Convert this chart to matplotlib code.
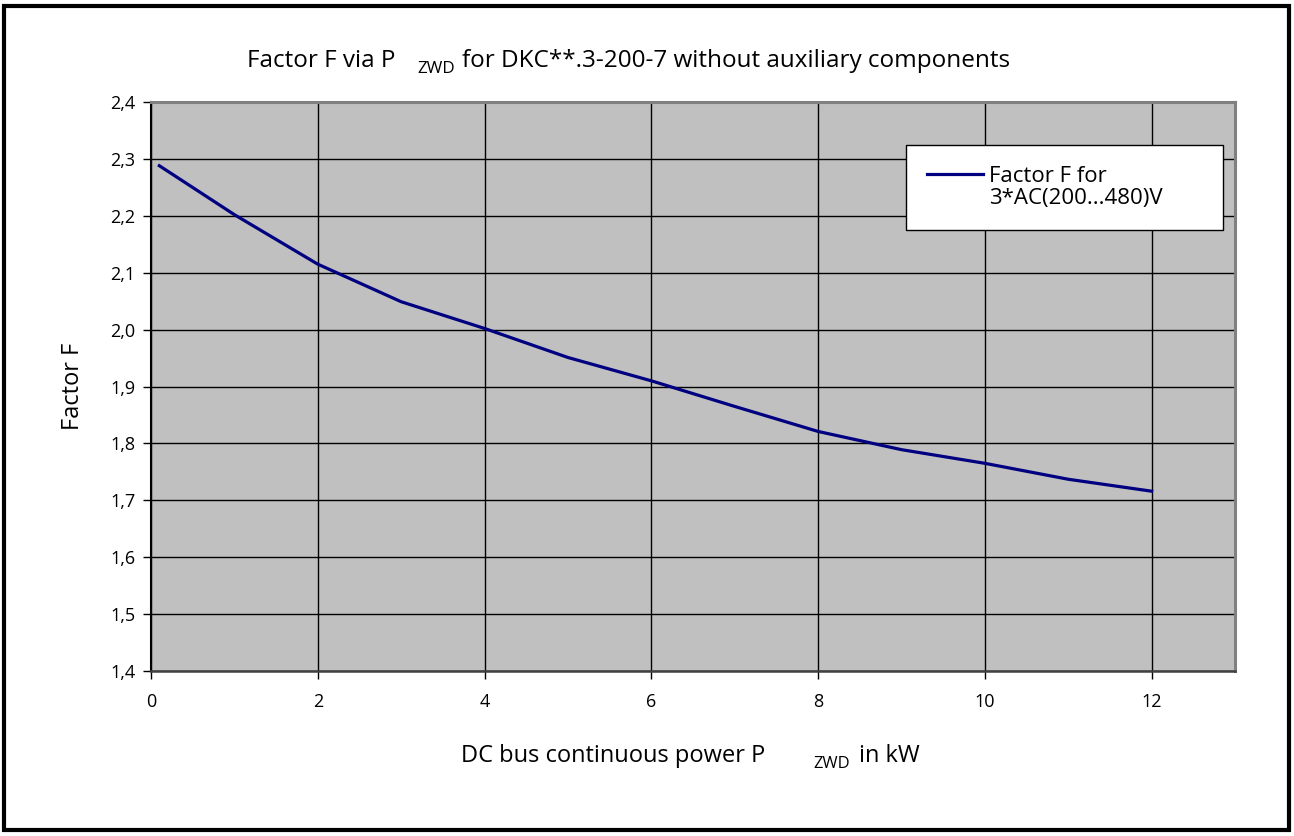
import matplotlib
matplotlib.use("Agg")
import matplotlib.pyplot as plt
from matplotlib.patches import Rectangle
from matplotlib.legend_handler import HandlerLine2D

plt.rcParams['font.family'] = ['Open Sans', 'DejaVu Sans']

# Factor F over DC bus continuous power (kW)
power_kw = [0.1, 1, 2, 3, 4, 5, 6, 7, 8, 9, 10, 11, 12]
factor_f = [2.288, 2.202, 2.115, 2.049, 2.002, 1.951, 1.910, 1.865, 1.821, 1.789, 1.765, 1.737, 1.716]
series_label = "Factor F for\n3*AC(200...480)V"

x_ticks = [0, 2, 4, 6, 8, 10, 12]
y_ticks = [1.4, 1.5, 1.6, 1.7, 1.8, 1.9, 2.0, 2.1, 2.2, 2.3, 2.4]


class HandlerTopLine(HandlerLine2D):
    # put the legend line level with the first text line
    def create_artists(self, legend, orig_handle, xdescent, ydescent, width, height, fontsize, trans):
        artists = super().create_artists(legend, orig_handle, xdescent, ydescent,
                                         width, height, fontsize, trans)
        for a in artists:
            a.set_ydata([y + 10 for y in a.get_ydata()])
        return artists


W, H = 1294, 836
fig = plt.figure(figsize=(W / 100, H / 100), dpi=100)
# plot area: 151..1235 px wide, 102..671 px high
ax = fig.add_axes([151 / W, 1 - 671 / H, 1084 / W, 569 / H])
ax.set_facecolor('#c0c0c0')

line, = ax.plot(power_kw, factor_f, color='#000080', lw=2.3, label=series_label, zorder=3)

ax.set_xlim(0, 13)
ax.set_ylim(1.4, 2.4)
ax.set_xticks(x_ticks)
ax.set_yticks(y_ticks)
ax.set_yticklabels([f"{v:.1f}".replace('.', ',') for v in y_ticks])
ax.tick_params(direction='out', length=6, width=1, color='black', labelsize=13)
ax.tick_params(axis='y', pad=5)
ax.tick_params(axis='x', pad=10)
ax.grid(True, color='black', lw=1.0, zorder=1)
ax.set_axisbelow(True)

for side in ['top', 'right']:
    ax.spines[side].set_color('#808080')
    ax.spines[side].set_linewidth(2.2)
ax.spines['left'].set_color('black')
ax.spines['left'].set_linewidth(1.5)
ax.spines['bottom'].set_color('#404040')
ax.spines['bottom'].set_linewidth(1.8)

leg = ax.legend(loc='upper left', bbox_to_anchor=(0.6965, 0.925, 0.2924, 0.0), mode='expand',
                frameon=True, fancybox=False, fontsize=16, handlelength=2.5,
                handletextpad=0.3, borderpad=0.95, borderaxespad=0,
                handler_map={line: HandlerTopLine()})
leg.get_frame().set_edgecolor('black')
leg.get_frame().set_linewidth(1)
leg.get_frame().set_facecolor('white')
leg.get_frame().set_alpha(1)
leg.get_texts()[0].set_linespacing(1.05)


def draw_pieces(pieces, x_px, y_px, size):
    # text pieces placed left to right; smaller pieces sit lower as subscripts
    prev = None
    for txt, gap, dy, scale in pieces:
        if prev is None:
            prev = fig.text(x_px / W, 1 - y_px / H, txt, fontsize=size * scale,
                            ha='left', va='baseline')
        else:
            prev = ax.annotate(txt, xy=(1, 0), xycoords=prev, xytext=(gap, dy),
                               textcoords='offset points', fontsize=size * scale,
                               ha='left', va='bottom', annotation_clip=False)


draw_pieces([("Factor F via P", 0, 0, 1.0),
             ("ZWD", 16, -3, 0.7),
             ("for DKC**.3-200-7 without auxiliary components", 5, 3, 1.0)],
            247, 67, 17.5)

draw_pieces([("DC bus continuous power P", 0, 0, 1.0),
             ("ZWD", 35, -3, 0.7),
             ("in kW", 6, 3, 1.0)],
            461, 762, 17)

fig.text(73 / W, 1 - 386 / H, "Factor F", rotation=90, fontsize=17,
         ha='center', va='center')

fig.patches.append(Rectangle((4 / W, 6 / H), 1 - 9 / W, 1 - 12 / H,
                             transform=fig.transFigure, fill=False,
                             edgecolor='black', lw=3))

fig.savefig("out.png", dpi=100)
